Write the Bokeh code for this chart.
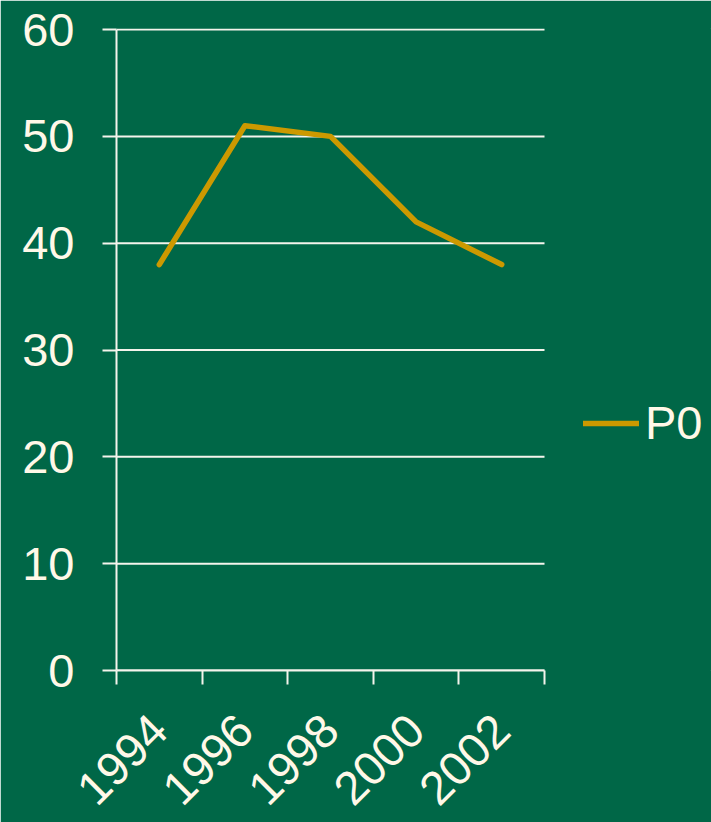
from bokeh.plotting import figure
from bokeh.models import FixedTicker, Legend, LegendItem, Range1d
from bokeh.embed import file_html
from bokeh.resources import INLINE
from math import pi

years = ["1994", "1996", "1998", "2000", "2002"]
p0 = [38, 51, 50, 42, 38]
y_ticks = [0, 10, 20, 30, 40, 50, 60]

BG = "#006747"
FG = "#FFF8E8"
GRID = "#F4F4EC"
GOLD = "#CC9900"
FONT = "Liberation Sans"
FS = "47px"

n = len(years)
xs = [i + 0.5 for i in range(n)]

# plot area spans 116..544 px for the categories; the frame continues to the
# right edge so that the legend can sit in it
FRAME_W = 711 - 116
CAT_W = 428
p = figure(width=711, height=822, output_backend="svg", toolbar_location=None,
           x_range=Range1d(0, n * FRAME_W / CAT_W), y_range=Range1d(0, 60.1),
           background_fill_color=BG, border_fill_color=BG, outline_line_color=BG,
           outline_line_width=1,
           min_border_left=116, min_border_right=0, min_border_top=28, min_border_bottom=150)

# horizontal gridlines over the category area only
p.segment(x0=[0] * len(y_ticks), x1=[n] * len(y_ticks), y0=y_ticks, y1=y_ticks,
          line_color=GRID, line_width=2)

r = p.line(xs, p0, line_color=GOLD, line_width=5.5, line_join="round", line_cap="round")

# x axis: labels at category centres, ticks at category boundaries
xa = p.xaxis[0]
xa.bounds = (0, n)
xa.ticker = FixedTicker(ticks=xs, minor_ticks=list(range(n + 1)))
xa.major_label_overrides = {x: y for x, y in zip(xs, years)}
xa.major_label_orientation = pi / 4
xa.major_tick_line_color = None
xa.minor_tick_line_color = GRID
xa.minor_tick_line_width = 2
xa.minor_tick_out = 14
xa.minor_tick_in = 0
xa.axis_line_color = GRID
xa.axis_line_width = 2
xa.major_label_text_color = FG
xa.major_label_text_font = FONT
xa.major_label_text_font_size = FS
xa.major_label_standoff = 38

ya = p.yaxis[0]
ya.bounds = (0, 60)
ya.ticker = FixedTicker(ticks=y_ticks)
ya.major_tick_line_color = GRID
ya.major_tick_line_width = 2
ya.major_tick_out = 14
ya.major_tick_in = 0
ya.minor_tick_line_color = None
ya.axis_line_color = GRID
ya.axis_line_width = 2
ya.major_label_text_color = FG
ya.major_label_text_font = FONT
ya.major_label_text_font_size = FS
ya.major_label_standoff = 28

p.xgrid.grid_line_color = None
p.ygrid.grid_line_color = None

legend = Legend(items=[LegendItem(label="P0", renderers=[r])], location=(467, 220),
                background_fill_alpha=0, border_line_color=None, padding=0, margin=0,
                glyph_width=56, glyph_height=44, label_standoff=6,
                label_text_color=FG, label_text_font=FONT, label_text_font_size=FS)
p.add_layout(legend, "center")

open("out.html", "w").write(file_html(p, INLINE))
